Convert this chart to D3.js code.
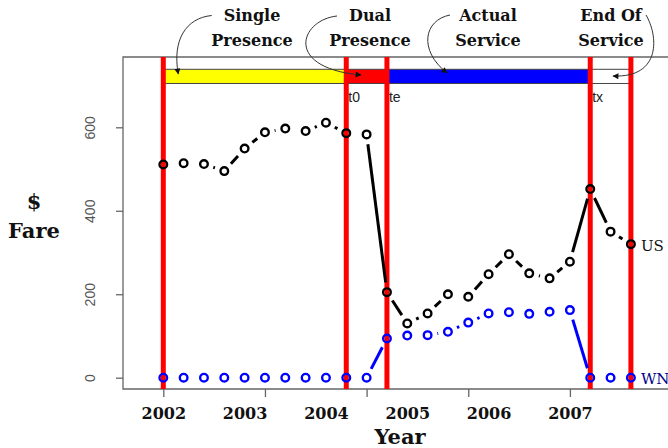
<!DOCTYPE html>
<html><head><meta charset="utf-8">
<script src="https://cdn.jsdelivr.net/npm/d3@7"></script>
<style>
html,body{margin:0;padding:0;background:#fff;}
svg{display:block;}
</style></head>
<body>
<svg id="chart" width="668" height="448"></svg>
<script>
// ---- data ----
const quarterIndex = d3.range(24);
const usFare = [511,514,512,495,549,588,597,591,611,586,583,205,130,154,200,194,248,296,250,238,278,452,350,320];
const wnFare = [0,0,0,0,0,0,0,0,0,0,0,94,101,102,110,132,154,157,153,158,162,0,0,0];
const yearLabels = ["2002","2003","2004","2005","2006","2007"];
const yearIndex = [0,4,8,12,16,20];
const xTickIndex = [0,5,10,15,20];
const yTicks = [0,200,400,600];
const eventIndex = [0,9,11,21,23];
const markerLabels = ["t0","te","tx"];
const markerIndex = [9,11,21];
const phaseStart = [0,9,11,21];
const phaseEnd = [9,11,21,23];
const phaseColors = ["#ffff00","#ff0000","#0000ff","#ffffff"];
const phaseTop = ["Single","Dual","Actual","End Of"];
const phaseBottom = ["Presence","Presence","Service","Service"];
const barRange = [705,739];
const seriesNames = ["US","WN"];

// ---- layout ----
const svg = d3.select("#chart");
const plot = {left:123, top:57, bottom:389, right:700};
const x = d3.scaleLinear().domain([0,23]).range([163.3,630.9]);
const y = d3.scaleLinear().domain([0,600]).range([377.7,127.3]);
const serif = "'DejaVu Serif', serif";
const sans = "'Liberation Sans', Arial, sans-serif";

// box
svg.append("path")
  .attr("d", `M${plot.right},${plot.top}H${plot.left}V${plot.bottom}H${plot.right}`)
  .attr("fill","none").attr("stroke","#666").attr("stroke-width",1.3);

// axes
const yAxis = svg.append("g").attr("transform",`translate(${plot.left},0)`)
  .call(d3.axisLeft(y).tickValues(yTicks).tickSize(7));
yAxis.select(".domain").remove();
yAxis.selectAll("line").attr("stroke","#666").attr("stroke-width",1.3);
yAxis.selectAll("text")
  .attr("font-family",sans).attr("font-size",14).attr("fill","#555")
  .attr("text-anchor","middle").attr("x",0).attr("y",0).attr("dy","0.35em")
  .attr("transform","translate(-33,0) rotate(-90)");

const xAxis = svg.append("g").attr("transform",`translate(0,${plot.bottom})`)
  .call(d3.axisBottom(x).tickValues(xTickIndex).tickSize(8).tickFormat(""));
xAxis.select(".domain").remove();
xAxis.selectAll("line").attr("stroke","#666").attr("stroke-width",1.3);

const xLab = svg.append("g").attr("transform",`translate(0,${plot.bottom})`)
  .call(d3.axisBottom(x).tickValues(yearIndex).tickSize(0).tickPadding(19)
    .tickFormat((d,i)=>yearLabels[i]));
xLab.select(".domain").remove();
xLab.selectAll("text").attr("font-family",serif).attr("font-weight","bold")
  .attr("font-size",16).attr("fill","#111");

// phase bar
svg.append("g").selectAll("rect").data(phaseStart).join("rect")
  .attr("x",(d)=>x(d))
  .attr("width",(d,i)=>x(phaseEnd[i])-x(d))
  .attr("y",y(barRange[1]))
  .attr("height",y(barRange[0])-y(barRange[1]))
  .attr("fill",(d,i)=>phaseColors[i])
  .attr("stroke","#444").attr("stroke-width",1);

// red event lines
svg.append("g").selectAll("line").data(eventIndex).join("line")
  .attr("x1",d=>x(d)).attr("x2",d=>x(d))
  .attr("y1",plot.top).attr("y2",plot.bottom)
  .attr("stroke","#ff0000").attr("stroke-width",5);

// marker labels
svg.append("g").selectAll("text").data(markerIndex).join("text")
  .attr("x",d=>x(d)+2).attr("y",102)
  .attr("font-family",sans).attr("font-size",14).attr("fill","#222")
  .text((d,i)=>markerLabels[i]);

// series: type "b" with gaps
function drawSeries(vals, color){
  const pts = quarterIndex.map(i=>[x(i), y(vals[i])]);
  const gap = 9.9;
  const segs = [];
  for(let i=0;i<pts.length-1;i++){
    const [x0,y0]=pts[i],[x1,y1]=pts[i+1];
    const dx=x1-x0, dy=y1-y0, L=Math.hypot(dx,dy);
    if(L>2*gap+0.8){
      const ux=dx/L, uy=dy/L;
      segs.push([x0+ux*gap,y0+uy*gap,x1-ux*gap,y1-uy*gap]);
    }
  }
  const g = svg.append("g");
  g.selectAll("line").data(segs).join("line")
    .attr("x1",d=>d[0]).attr("y1",d=>d[1]).attr("x2",d=>d[2]).attr("y2",d=>d[3])
    .attr("stroke",color).attr("stroke-width",3);
  g.selectAll("circle").data(pts).join("circle")
    .attr("cx",d=>d[0]).attr("cy",d=>d[1]).attr("r",3.8)
    .attr("fill","none").attr("stroke",color).attr("stroke-width",2.4);
}
drawSeries(usFare,"#000000");
drawSeries(wnFare,"#0000ff");

svg.append("text").attr("x",x(23)+10).attr("y",y(usFare[23])+7)
  .attr("font-family",serif).attr("font-size",15).attr("fill","#111").text(seriesNames[0]);
svg.append("text").attr("x",x(23)+10).attr("y",y(wnFare[23])+6)
  .attr("font-family",serif).attr("font-size",15).attr("fill","#00008b").text(seriesNames[1]);

// axis titles
svg.append("text").attr("x",34).attr("y",209).attr("text-anchor","middle")
  .attr("font-family",serif).attr("font-weight","bold").attr("font-size",21).attr("fill","#111").text("$");
svg.append("text").attr("x",34).attr("y",238).attr("text-anchor","middle")
  .attr("font-family",serif).attr("font-weight","bold").attr("font-size",21).attr("fill","#111").text("Fare");
svg.append("text").attr("x",400).attr("y",444).attr("text-anchor","middle")
  .attr("font-family",serif).attr("font-weight","bold").attr("font-size",21).attr("fill","#111").text("Year");

// phase annotations
const annX = [252,370,488,611];
const ann = svg.append("g").attr("font-family",serif).attr("font-weight","bold")
  .attr("font-size",16).attr("fill","#111").attr("text-anchor","middle");
ann.selectAll("text.t").data(phaseTop).join("text").attr("class","t")
  .attr("x",(d,i)=>annX[i]).attr("y",21).text(d=>d);
ann.selectAll("text.b").data(phaseBottom).join("text").attr("class","b")
  .attr("x",(d,i)=>annX[i]).attr("y",46).text(d=>d);

// arrows
const defs = svg.append("defs");
defs.append("marker").attr("id","ah").attr("viewBox","0 0 10 10")
  .attr("refX",9).attr("refY",5).attr("markerWidth",7).attr("markerHeight",6)
  .attr("markerUnits","userSpaceOnUse").attr("orient","auto")
  .append("path").attr("d","M0,0L10,5L0,10Z").attr("fill","#111");
const arrowPaths = [
  "M211.7,15.5C186,18 172,40 178.3,74",
  "M337,16C300,20 283,68 361,75",
  "M450,15C424,20 418,50 447,73",
  "M646,15C658,35 662,78 613,76"
];
svg.append("g").selectAll("path").data(arrowPaths).join("path")
  .attr("d",d=>d).attr("fill","none").attr("stroke","#333").attr("stroke-width",1)
  .attr("marker-end","url(#ah)");
</script>
</body></html>
